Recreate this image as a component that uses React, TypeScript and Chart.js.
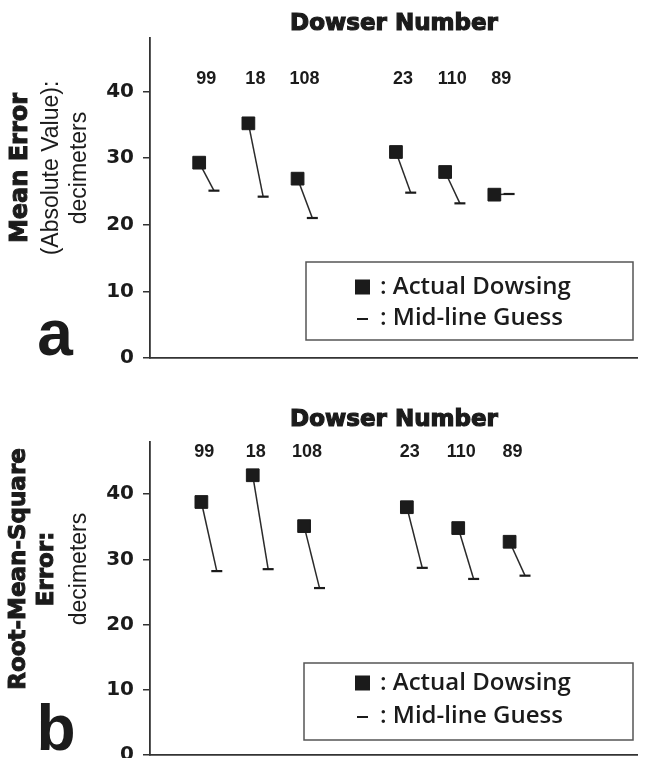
import React, { useEffect, useRef } from "react";
import { Chart, registerables } from "chart.js";

Chart.register(...registerables);

// ---- data ----
const dowsers = ["99", "18", "108", "23", "110", "89"];
const positions = [1, 2, 3, 5, 6, 7];
const meanErrorActual = [29.3, 35.2, 26.9, 30.9, 27.9, 24.5];
const meanErrorMidline = [25.1, 24.2, 21.0, 24.8, 23.2, 24.6];
const rmsActual = [38.8, 42.9, 35.1, 38.0, 34.8, 32.7];
const rmsMidline = [28.2, 28.5, 25.6, 28.7, 27.0, 27.5];
const yTickValues = [0, 10, 20, 30, 40];
const xTitle = "Dowser Number";
const legendLabels = [": Actual Dowsing", ": Mid-line Guess"];
const MID_OFFSET = 0.3;
const Y_MAX = 48;

const INK = "#1b1b1b";
const AXIS = "#333333";

type YLabel = { text: string; font: string; x: number; heavy?: boolean };
type Panel = {
  letter: string;
  actual: number[];
  mid: number[];
  yLabels: YLabel[];
  yLabelCenter: number;
  xMax: number;
  canvasHeight: number;
  padTop: number;
  padBottom: number;
  titleX: number;
  titleY: number;
  labelY: number;
  labelDx: number;
  legendBox: [number, number, number, number];
  legendRows: [number, number];
  letterX: number;
  letterBaseline: number;
};

const HEAVY = 'bold 23px "DejaVu Sans"';
const PLAIN = '23px "Liberation Sans"';

const panels: Panel[] = [
  {
    letter: "a",
    actual: meanErrorActual,
    mid: meanErrorMidline,
    yLabels: [
      { text: "Mean Error", font: 'bold 24px "DejaVu Sans"', x: 21, heavy: true },
      { text: "(Absolute Value):", font: PLAIN, x: 52 },
      { text: "decimeters", font: PLAIN, x: 80 },
    ],
    yLabelCenter: 168,
    xMax: 9.9,
    canvasHeight: 379,
    padTop: 38,
    padBottom: 21,
    titleX: 394,
    titleY: 24,
    labelY: 79,
    labelDx: 7,
    legendBox: [306, 262, 327, 78],
    legendRows: [287, 318],
    letterX: 55,
    letterBaseline: 355,
  },
  {
    letter: "b",
    actual: rmsActual,
    mid: rmsMidline,
    yLabels: [
      { text: "Root-Mean-Square", font: HEAVY, x: 19, heavy: true },
      { text: "Error:", font: HEAVY, x: 47, heavy: true },
      { text: "decimeters", font: PLAIN, x: 80 },
    ],
    yLabelCenter: 190,
    xMax: 9.48,
    canvasHeight: 391,
    padTop: 63,
    padBottom: 15,
    titleX: 394,
    titleY: 41,
    labelY: 73,
    labelDx: 3,
    legendBox: [304, 284, 329, 77],
    legendRows: [304, 337],
    letterX: 56,
    letterBaseline: 371,
  },
];

function annotationPlugin(p: Panel) {
  return {
    id: "annotations-" + p.letter,
    afterDraw(chart: any) {
      const ctx: CanvasRenderingContext2D = chart.ctx;
      const xs = chart.scales.x;
      ctx.save();
      ctx.fillStyle = INK;
      ctx.strokeStyle = INK;

      // title
      ctx.textAlign = "center";
      ctx.textBaseline = "middle";
      ctx.font = 'bold 23px "DejaVu Sans"';
      ctx.lineWidth = 1.2;
      ctx.fillText(xTitle, p.titleX, p.titleY);
      ctx.strokeText(xTitle, p.titleX, p.titleY);

      // dowser numbers
      ctx.font = 'bold 18px "Liberation Sans"';
      dowsers.forEach((d, i) => {
        ctx.fillText(d, xs.getPixelForValue(positions[i]) + p.labelDx, p.labelY);
      });

      // rotated y labels
      p.yLabels.forEach((l) => {
        ctx.save();
        ctx.translate(l.x, p.yLabelCenter);
        ctx.rotate(-Math.PI / 2);
        ctx.font = l.font;
        ctx.fillText(l.text, 0, 0);
        if (l.heavy) {
          ctx.lineWidth = 1;
          ctx.strokeText(l.text, 0, 0);
        }
        ctx.restore();
      });

      // panel letter
      ctx.textBaseline = "alphabetic";
      ctx.font = 'bold 64px "Liberation Sans"';
      ctx.fillText(p.letter, p.letterX, p.letterBaseline);

      // legend
      const [bx, by, bw, bh] = p.legendBox;
      ctx.lineWidth = 1.5;
      ctx.strokeStyle = "#555";
      ctx.strokeRect(bx, by, bw, bh);
      ctx.fillStyle = INK;
      ctx.fillRect(355, p.legendRows[0] - 7.5, 15, 15);
      ctx.strokeStyle = INK;
      ctx.lineWidth = 2;
      ctx.beginPath();
      ctx.moveTo(357, p.legendRows[1] + 1);
      ctx.lineTo(368, p.legendRows[1] + 1);
      ctx.stroke();
      ctx.textAlign = "left";
      ctx.textBaseline = "middle";
      ctx.font = '600 24px "Open Sans"';
      legendLabels.forEach((t, i) => ctx.fillText(t, 380, p.legendRows[i]));
      ctx.restore();
    },
  };
}

function makeConfig(p: Panel): any {
  const datasets = dowsers.map((d, i) => ({
    label: d,
    data: [
      { x: positions[i], y: p.actual[i] },
      { x: positions[i] + MID_OFFSET, y: p.mid[i] },
    ],
    showLine: true,
    borderColor: "#2a2a2a",
    borderWidth: 1.5,
    pointStyle: ["rect", "line"],
    pointRadius: [9, 5.5],
    pointHoverRadius: [9, 5.5],
    pointBackgroundColor: INK,
    pointBorderColor: INK,
    pointBorderWidth: [1, 2.2],
  }));
  const noPad = (s: any) => {
    s.paddingTop = 0;
    s.paddingBottom = 0;
    s.paddingLeft = 0;
    s.paddingRight = 0;
  };
  return {
    type: "scatter",
    data: { datasets },
    options: {
      responsive: false,
      animation: false,
      events: [],
      layout: { padding: { left: 90, right: 2, top: p.padTop, bottom: p.padBottom } },
      plugins: { legend: { display: false }, tooltip: { enabled: false }, title: { display: false } },
      scales: {
        x: {
          type: "linear",
          min: 0,
          max: p.xMax,
          ticks: { display: false },
          grid: { display: false, drawTicks: false },
          border: { display: true, color: AXIS, width: 1.8 },
          afterFit: (s: any) => {
            s.height = 0;
            noPad(s);
          },
        },
        y: {
          type: "linear",
          min: 0,
          max: Y_MAX,
          afterBuildTicks: (s: any) => {
            s.ticks = yTickValues.map((v) => ({ value: v }));
          },
          afterFit: (s: any) => {
            s.width = 60;
            noPad(s);
          },
          ticks: {
            color: INK,
            padding: 9,
            font: { family: "DejaVu Sans", size: 20, weight: "bold" },
          },
          grid: {
            display: true,
            drawOnChartArea: false,
            drawTicks: true,
            tickLength: 7,
            color: AXIS,
            lineWidth: 1.5,
          },
          border: { display: true, color: AXIS, width: 1.8 },
        },
      },
    },
    plugins: [annotationPlugin(p)],
  };
}

function PanelChart({ panel }: { panel: Panel }) {
  const ref = useRef<HTMLCanvasElement | null>(null);
  useEffect(() => {
    let chart: Chart | null = null;
    let cancelled = false;
    const fonts = [
      'bold 20px "DejaVu Sans"',
      'bold 18px "Liberation Sans"',
      '23px "Liberation Sans"',
      '600 24px "Open Sans"',
    ];
    const create = () => {
      if (cancelled || !ref.current) return;
      chart = new Chart(ref.current, makeConfig(panel));
    };
    const fs: any = (document as any).fonts;
    if (fs && fs.load) {
      Promise.all(fonts.map((f) => fs.load(f).catch(() => null))).then(create, create);
    } else {
      create();
    }
    return () => {
      cancelled = true;
      if (chart) chart.destroy();
    };
  }, [panel]);
  return <canvas ref={ref} width={647} height={panel.canvasHeight} style={{ display: "block" }} />;
}

export default function App() {
  return (
    <div style={{ position: "absolute", left: 0, top: 0, width: 647, height: 758, background: "#fff", overflow: "hidden" }}>
      {panels.map((p) => (
        <PanelChart key={p.letter} panel={p} />
      ))}
    </div>
  );
}
